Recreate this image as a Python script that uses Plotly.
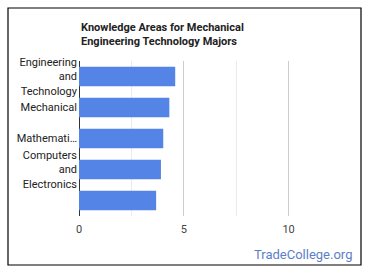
import plotly.graph_objects as go

categories = ["Engineering<br>and<br>Technology", "Mechanical", "Mathemati…", "Computers<br>and<br>Electronics", " "]
values = [4.59, 4.31, 4.02, 3.91, 3.68]
title_text = "Knowledge Areas for Mechanical<br>Engineering Technology Majors"
watermark = "TradeCollege.org"

W, H = 370, 278
L, R, T, B = 79, 341, 61, 216  # plot area pixels

def px(x):
    return (x - L) / (R - L)

def py(y):
    return (B - y) / (B - T)

fig = go.Figure(go.Bar(
    x=values, y=categories, orientation="h",
    marker=dict(color="#5484e5", line=dict(width=0)),
    width=0.63,
))

fig.update_layout(
    width=W, height=H,
    margin=dict(l=L, r=W - R, t=T, b=H - B, pad=0),
    paper_bgcolor="white", plot_bgcolor="white",
    font=dict(family="Roboto, Arial, sans-serif", size=11, color="#222"),
    showlegend=False,
    bargap=0.37,
    xaxis=dict(
        range=[0, 12.5], dtick=5, tick0=0,
        showgrid=True, gridcolor="#cccccc", gridwidth=1,
        minor=dict(dtick=2.5, showgrid=True, gridcolor="#ebebeb"),
        zeroline=True, zerolinecolor="#333333", zerolinewidth=1,
        showline=False, ticks="",
        tickfont=dict(size=11, color="#444"),
        ticklabelstandoff=5,
        fixedrange=True,
    ),
    yaxis=dict(
        categoryorder="array", categoryarray=categories[::-1],
        autorange=False, range=[-0.5, len(categories) - 0.5],
        showgrid=False, zeroline=False, ticks="", showline=False,
        tickfont=dict(size=11, color="#222"),
        ticklabelstandoff=1,
    ),
    annotations=[
        dict(text="<b>" + title_text + "</b>", xref="paper", yref="paper",
             x=px(79), y=py(19), xanchor="left", yanchor="top", align="left",
             showarrow=False, font=dict(size=11, color="#222")),
        dict(text=watermark, xref="paper", yref="paper",
             x=px(354), y=py(255), xanchor="right", yanchor="middle",
             showarrow=False, font=dict(size=13, color="#5b7fc7")),
    ],
    shapes=[
        dict(type="rect", xref="paper", yref="paper",
             x0=px(8), x1=px(361), y0=py(265), y1=py(8),
             line=dict(color="#000", width=1.2), fillcolor="rgba(0,0,0,0)", layer="below"),
    ],
)

fig.write_html("out.html")
